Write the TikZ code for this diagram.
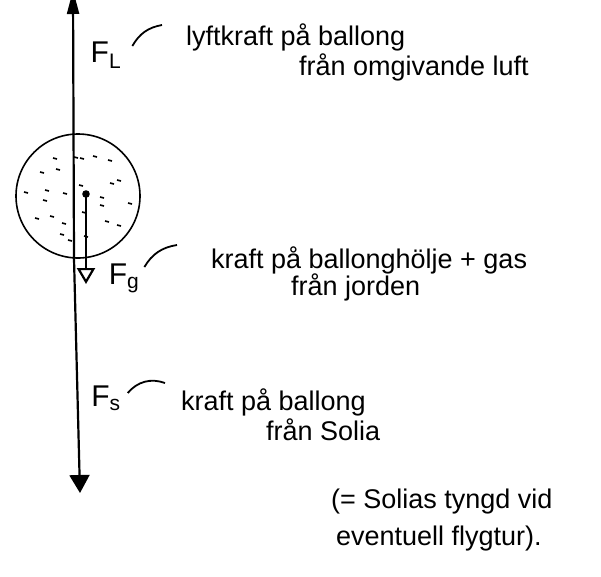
\documentclass[tikz,border=0pt]{standalone}
\usepackage{fontspec}
\setmainfont{Liberation Sans}
\usetikzlibrary{arrows.meta}

\begin{document}
\begin{tikzpicture}[x=1pt, y=-1pt, line width=2.2pt,
  lbl/.style={font=\fontsize{30}{34}\selectfont, inner sep=0pt},
  txt/.style={font=\fontsize{27}{31}\selectfont, anchor=base west, inner sep=0pt},
  squiggle/.style={line width=1.8pt}]
\useasboundingbox (0,0) rectangle (601,576);

% Balloon with gas specks
\node[circle, draw, line width=1.6pt, minimum size=124pt, inner sep=0pt] (balloon) at (78,196) {};
\foreach \x/\y in {53/158,40/172,56/169,24/192,45/190,43/200,63/193,35/218,50/216,62/223,
                   60/234,68/240,80/158,93/156,108/160,110/183,117/180,100/197,100/205,
                   128/203,105/221,117/225,79/185,82/212,84/236,74/157} {
    \draw[line width=1.6pt] (\x,\y) -- ++(4,1);
}

% Force arrows
\coordinate (c) at (86,194);
\coordinate (gtip) at (86,284);
\coordinate (ltip) at (73,-10);
\coordinate (stip) at (80,493);
\fill (c) circle (3.8);
\draw[-{Triangle[open, length=16pt, width=18pt]}] (c) -- (gtip);
\draw[-{Triangle[length=24pt, width=12pt]}] ([xshift=-4pt]balloon.south) -- (ltip);
\draw[-{Triangle[length=18pt, width=20pt]}] ([xshift=-4pt]balloon.south) -- (stip);

% Force labels
\node[lbl] (FL) at (106,55) {F\textsubscript{L}};
\node[lbl] (Fg) at (124,278) {F\textsubscript{g}};
\node[lbl] (Fs) at (106,398) {F\textsubscript{s}};

% Explanations
\node[txt] (lift1) at (185,45) {lyftkraft på ballong};
\node[txt] (lift2) at (298,75) {från omgivande luft};
\node[txt] (grav1) at (210,268) {kraft på ballonghölje + gas};
\node[txt] (grav2) at (290,295) {från jorden};
\node[txt] (sol1) at (180,410) {kraft på ballong};
\node[txt] (sol2) at (265,440) {från Solia};
\node[txt] (note1) at (330,508) {(= Solias tyngd vid};
\node[txt] (note2) at (335,545) {eventuell flygtur).};

% Label ticks
\draw[squiggle] ([shift={(10,-9)}]FL.east) to[bend left=25] ([shift={(-23,-20)}]lift1.base west);
\draw[squiggle] ([shift={(4,-11)}]Fg.east) to[bend left=25] ([shift={(-33,-23)}]grav1.base west);
\draw[squiggle] ([shift={(6,-5)}]Fs.east) to[bend left=35] ([shift={(-15,-27)}]sol1.base west);

\end{tikzpicture}
\end{document}
